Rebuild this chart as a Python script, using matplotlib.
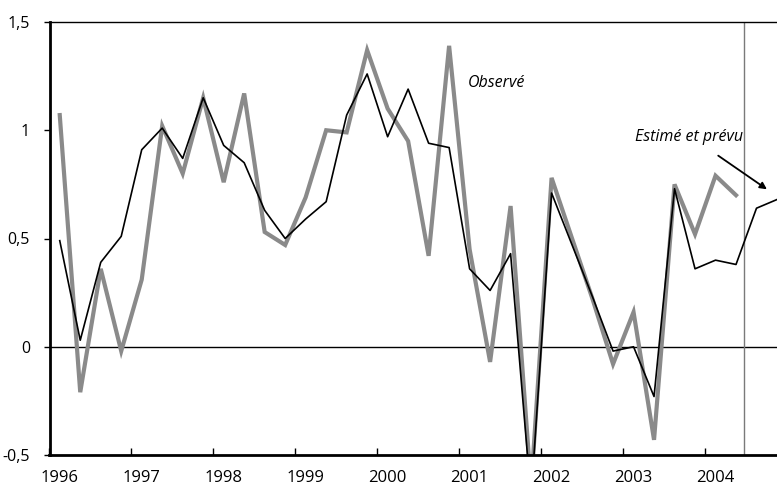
import numpy as np
import matplotlib
matplotlib.use("Agg")
import matplotlib.pyplot as plt

# séries trimestrielles 1996T1 -> 2004T4
annee_debut = 1996
observe = [1.07, -0.21, 0.36, -0.02, 0.31, 1.02, 0.80, 1.15, 0.76, 1.17, 0.53, 0.47,
           0.69, 1.00, 0.99, 1.37, 1.10, 0.95, 0.42, 1.39, 0.45, -0.07, 0.65, -0.65,
           0.78, 0.50, 0.22, -0.08, 0.16, -0.43, 0.75, 0.52, 0.79, 0.70]
estime = [0.49, 0.03, 0.39, 0.51, 0.91, 1.01, 0.87, 1.15, 0.93, 0.85, 0.63, 0.50,
          0.59, 0.67, 1.07, 1.26, 0.97, 1.19, 0.94, 0.92, 0.36, 0.26, 0.43, -0.70,
          0.71, 0.47, 0.23, -0.02, 0.00, -0.23, 0.73, 0.36, 0.40, 0.38, 0.64, 0.68]
annees = list(range(1996, 2005))
y_ticks = [-0.5, 0, 0.5, 1, 1.5]
y_labels = ["-0,5", "0", "0,5", "1", "1,5"]
debut_prevision = 2004.47

# positions: milieu de chaque trimestre
x_obs = annee_debut + 0.125 + 0.25 * np.arange(len(observe))
x_est = annee_debut + 0.125 + 0.25 * np.arange(len(estime))

plt.rcParams["font.family"] = ["Open Sans", "DejaVu Sans"]

fig = plt.figure(figsize=(7.77, 4.91), dpi=100)
ax = fig.add_axes([49.5 / 777, 1 - 455 / 491, 1 - 49.5 / 777, (455 - 22) / 491])

ax.plot(x_obs, observe, color="#8a8a8a", lw=3.0, zorder=2, solid_joinstyle="miter")
ax.plot(x_est, estime, color="black", lw=1.2, zorder=3)
ax.axhline(0, color="black", lw=1.0, zorder=1)
ax.axvline(debut_prevision, color="#7a7a7a", lw=1.0, zorder=1)

ax.set_xlim(1996, 2004.875)
ax.set_ylim(-0.5, 1.5)

# axe x: graduations aux changements d'année, libellés au 1er trimestre
ax.set_xticks(annees)
ax.set_xticklabels([])
ax.tick_params(axis="x", which="major", direction="in", length=5, width=1)
ax.set_xticks([a + 0.125 for a in annees], minor=True)
ax.set_xticklabels([str(a) for a in annees], minor=True, fontsize=12)
ax.tick_params(axis="x", which="minor", length=0, pad=11)

ax.set_yticks(y_ticks)
ax.set_yticklabels(y_labels, fontsize=11.5)
ax.tick_params(axis="y", direction="out", length=4, width=1, pad=10)

ax.spines["left"].set_linewidth(2)
ax.spines["bottom"].set_linewidth(2)
ax.spines["top"].set_linewidth(1)
ax.spines["right"].set_visible(False)

ax.text(2001.1, 1.22, "Observé", fontsize=11.5, style="italic", ha="left", va="center")
ax.text(2004.46, 0.97, "Estimé et prévu", fontsize=11.5, style="italic",
        ha="right", va="center")
ax.annotate("", xy=(2004.78, 0.72), xytext=(2004.13, 0.89),
            arrowprops=dict(arrowstyle="-|>", color="black", lw=1.3, mutation_scale=10))

fig.savefig("out.png", dpi=100)
